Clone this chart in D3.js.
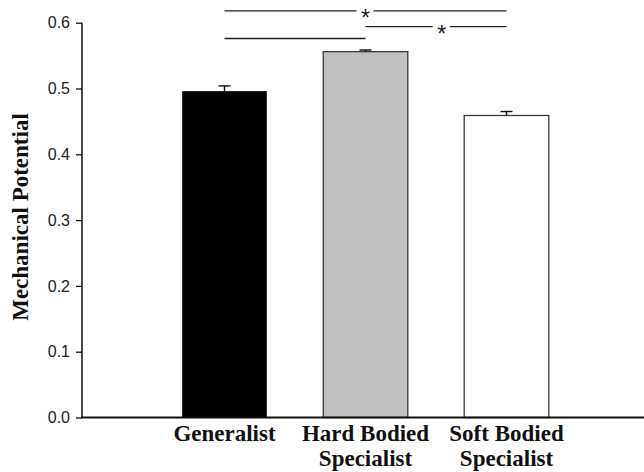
<!DOCTYPE html>
<html>
<head>
<meta charset="utf-8">
<script src="https://cdn.jsdelivr.net/npm/d3@7"></script>
<style>
  body { margin: 0; background: #fff; }
  svg { display: block; }
</style>
</head>
<body>
<svg id="chart" width="644" height="472"></svg>
<script>
// groups, means and standard errors
const groups = ["Generalist", "Hard Bodied Specialist", "Soft Bodied Specialist"]
const labelLines = [["Generalist"], ["Hard Bodied", "Specialist"], ["Soft Bodied", "Specialist"]]
const means = [0.496, 0.556, 0.459]
const errors = [0.008, 0.0025, 0.006]
const fills = ["#000000", "#c0c0c0", "#ffffff"]
const yTicks = [0, 0.1, 0.2, 0.3, 0.4, 0.5, 0.6]
// significance brackets: from group, to group, height (data units), star?
const comparisons = [
  { from: 0, to: 2, level: 0.618, star: true, at: 0.5 },
  { from: 1, to: 2, level: 0.594, star: true, at: 0.54 },
  { from: 0, to: 1, level: 0.576, star: false, at: 0.5 }
]

const svg = d3.select("#chart")
const axisLeft = 82, axisRight = 644
const y = d3.scaleLinear().domain([0, 0.6]).range([417.5, 22.7])
const x = d3.scaleBand()
  .domain(groups)
  .range([154, 577])
  .paddingInner(0.4)
  .paddingOuter(0.2)

// bars
svg.append("g").selectAll("rect")
  .data(groups)
  .join("rect")
  .attr("x", d => x(d))
  .attr("y", (d, i) => y(means[i]))
  .attr("width", x.bandwidth())
  .attr("height", (d, i) => y(0) - y(means[i]))
  .attr("fill", (d, i) => fills[i])
  .attr("stroke", (d, i) => i == 0 ? "none" : "#3a3a3a")
  .attr("stroke-width", 1.3)

// error bars (upper only)
const err = svg.append("g").attr("stroke", "#111").attr("stroke-width", 1.4)
groups.forEach((g, i) => {
  const cx = x(g) + x.bandwidth() / 2
  err.append("line")
    .attr("x1", cx).attr("x2", cx)
    .attr("y1", y(means[i])).attr("y2", y(means[i] + errors[i]))
  err.append("line")
    .attr("x1", cx - 6).attr("x2", cx + 6)
    .attr("y1", y(means[i] + errors[i])).attr("y2", y(means[i] + errors[i]))
})

// y axis
const yAxis = svg.append("g")
  .attr("transform", "translate(" + axisLeft + ",0)")
  .call(d3.axisLeft(y).tickValues(yTicks).tickFormat(d3.format(".1f")).tickSize(6).tickPadding(6))
yAxis.select(".domain").attr("stroke", "#111").attr("stroke-width", 1.5).attr("d", "M0," + y(0) + "V" + y(0.6))
yAxis.selectAll(".tick line").attr("stroke", "#111").attr("stroke-width", 1.3)
yAxis.selectAll("text")
  .attr("font-family", "Liberation Sans, Arial, sans-serif")
  .attr("font-size", 16)
  .attr("fill", "#222")

// x axis line
svg.append("line")
  .attr("x1", axisLeft - 1).attr("x2", axisRight)
  .attr("y1", y(0)).attr("y2", y(0))
  .attr("stroke", "#111").attr("stroke-width", 2.2)

// category labels
const lab = svg.append("g")
  .attr("font-family", "Liberation Serif, Times New Roman, serif")
  .attr("font-weight", "bold")
  .attr("font-size", 23)
  .attr("fill", "#111")
  .attr("text-anchor", "middle")
groups.forEach((g, i) => {
  const t = lab.append("text").attr("x", x(g) + x.bandwidth() / 2).attr("y", 441)
  labelLines[i].forEach((ln, k) => {
    t.append("tspan").attr("x", x(g) + x.bandwidth() / 2).attr("dy", k == 0 ? 0 : 24.5).text(ln)
  })
})

// y title
svg.append("text")
  .attr("transform", "translate(28," + 217 + ")rotate(-90)")
  .attr("text-anchor", "middle")
  .attr("font-family", "Liberation Serif, Times New Roman, serif")
  .attr("font-weight", "bold")
  .attr("font-size", 23)
  .attr("fill", "#111")
  .text("Mechanical Potential")

// significance brackets
const sig = svg.append("g")
comparisons.forEach(c => {
  const x1 = x(groups[c.from]) + x.bandwidth() / 2
  const x2 = x(groups[c.to]) + x.bandwidth() / 2
  const yy = y(c.level)
  sig.append("line")
    .attr("x1", x1).attr("x2", x2)
    .attr("y1", yy).attr("y2", yy)
    .attr("stroke", "#222").attr("stroke-width", 1.3)
  if (c.star) {
    const sx = x1 + (x2 - x1) * c.at
    sig.append("rect")
      .attr("x", sx - 9).attr("y", yy - 4)
      .attr("width", 17).attr("height", 8)
      .attr("fill", "#fff")
    sig.append("text")
      .attr("x", sx).attr("y", yy + 15)
      .attr("text-anchor", "middle")
      .attr("font-family", "Liberation Sans, Arial, sans-serif")
      .attr("font-size", 23)
      .attr("fill", "#222")
      .text("*")
  }
})
</script>
</body>
</html>
